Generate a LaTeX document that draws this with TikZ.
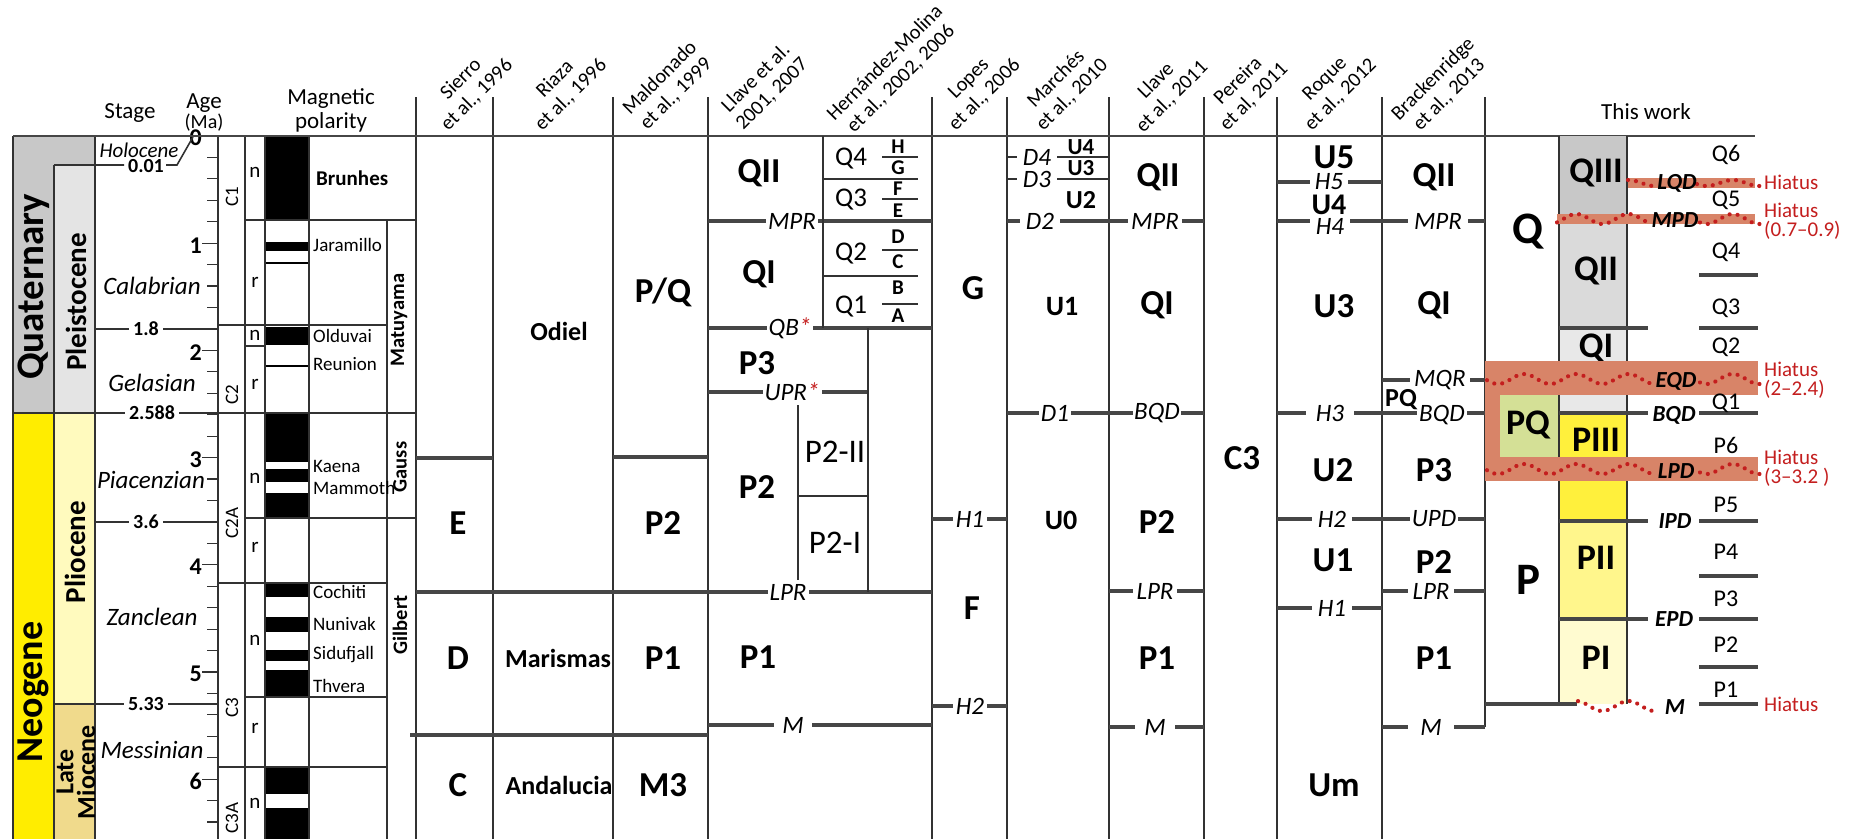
\documentclass[tikz,border=0pt]{standalone}
\usepackage{fontspec}
\setmainfont{Carlito}
\newcommand\FS[1]{\fontsize{#1}{#1}\selectfont}
\newcommand\FSb[2]{\fontsize{#1}{#2}\selectfont}
\definecolor{cQuat}{RGB}{200,200,200}
\definecolor{cPleis}{RGB}{228,228,228}
\definecolor{cNeo}{RGB}{255,237,0}
\definecolor{cPlio}{RGB}{255,250,190}
\definecolor{cMio}{RGB}{240,218,140}
\definecolor{cQiii}{RGB}{200,200,200}
\definecolor{cQii}{RGB}{218,218,218}
\definecolor{cQi}{RGB}{232,232,232}
\definecolor{cPiii}{RGB}{255,240,60}
\definecolor{cPii}{RGB}{255,246,140}
\definecolor{cPi}{RGB}{255,251,208}
\definecolor{cPQ}{RGB}{212,224,150}
\definecolor{cSal}{RGB}{216,132,104}
\definecolor{cRed}{RGB}{196,30,30}
\definecolor{cLn}{RGB}{50,50,50}
\definecolor{cLnb}{RGB}{70,70,70}
\newcommand\Wave[4]{\draw[wav] plot[domain=#1:#2, samples=70, smooth] (\x,{#3+#4*sin((\x-1485)*6.9)});}
\tikzset{
  cl/.style={line width=1.6pt, draw=cLn},
  bd/.style={line width=3.2pt, draw=cLnb},
  tk/.style={line width=1.2pt, draw=cLn},
  lab/.style={inner sep=0pt},
  big/.style={lab, font=\bfseries\FS{35}},
  med/.style={lab, font=\bfseries\FS{27}},
  rg/.style={lab, font=\FS{27}},
  itl/.style={font=\itshape\FS{25}, fill=white, inner xsep=2pt, inner ysep=0pt},
  bit/.style={lab, font=\bfseries\itshape\FS{23}},
  hdr/.style={lab, font=\FSb{20.4}{22.6}, rotate=45, align=center},
  hd/.style={lab, font=\FS{23}},
  mg/.style={lab, font=\FS{19}, anchor=west},
  rt/.style={lab, font=\FS{24}},
  hia/.style={lab, font=\FSb{21}{19}, text=cRed, anchor=west, align=left},
  agel/.style={font=\bfseries\FS{20}, fill=white, inner xsep=4pt, inner ysep=0pt},
  stg/.style={lab, font=\itshape\FS{25}},
  wav/.style={draw=cRed, line width=4.2pt, line cap=round, dash pattern=on 0.01pt off 8pt},
}
\begin{document}
\begin{tikzpicture}[x=1pt,y=-1pt]
\fill[white] (0,0) rectangle (1849,839);
\useasboundingbox (0,0) rectangle (1849,839);
% ---------- left colour columns
\fill[cQuat] (13,136) rectangle (54,413);
\fill[cQuat] (54,136) rectangle (95,165);
\fill[cPleis] (54,165) rectangle (95,413);
\fill[cNeo] (13,413) rectangle (54,839);
\fill[cPlio] (54,413) rectangle (95,704);
\fill[cMio] (54,704) rectangle (95,839);
\draw[cl] (13,136)--(13,839) (54,165)--(54,839) (95,136)--(95,839) (13,413)--(95,413) (54,704)--(95,704);
\node[lab, font=\bfseries\FS{39}, rotate=90] (quat) at (33.5,287) {Quaternary};
\node[lab, font=\bfseries\FS{29}, rotate=90] (pleis) at (76,302) {Pleistocene};
\node[lab, font=\bfseries\FS{38}, rotate=90] (neog) at (33,692) {Neogene};
\node[lab, font=\bfseries\FS{29}, rotate=90] (plio) at (75,552) {Pliocene};
\node[lab, font=\bfseries\FS{26}, rotate=90] (late) at (65,772) {Late};
\node[lab, font=\bfseries\FS{26}, rotate=90] (mioc) at (86,772) {Miocene};
% ---------- age scale
\foreach \k in {0,...,32} \draw[tk] (207,{136+21.44*\k})--(218,{136+21.44*\k});
\foreach \k in {0,...,6} {\draw[tk] (202,{136+107.2*\k})--(218,{136+107.2*\k});
  \node[lab, font=\bfseries\FS{24}, anchor=east] (age\k) at (202,{138+107.2*\k}) {\k};}
\draw[cl] (54,165)--(124,165) (166,165)--(177,165)--(193,137);
\node[lab, font=\bfseries\FS{20}] (a001) at (146,166) {0.01};
\node[lab, font=\itshape\FS{21}] (holo) at (139,150) {Holocene};
\draw[cl] (95,329)--(218,329) (95,413)--(218,413) (95,522)--(218,522) (95,704)--(218,704);
\node[agel] (a18) at (146,329) {1.8};
\node[agel] (a2588) at (152,413) {2.588};
\node[agel] (a36) at (146,522) {3.6};
\node[agel] (a533) at (146,704) {5.33};
\node[stg] (calab) at (152,286) {Calabrian};
\node[stg] (gelas) at (152,383) {Gelasian};
\node[stg] (piac) at (151,480) {Piacenzian};
\node[stg] (zanc) at (152,617) {Zanclean};
\node[stg] (mess) at (152,750) {Messinian};
% ---------- magnetic polarity
\fill[black] (265,136) rectangle (309,220);
\fill[black] (265,242) rectangle (309,251);
\fill[black] (265,327) rectangle (309,345);
\fill[black] (265,413) rectangle (309,462);
\fill[black] (265,469) rectangle (309,482);
\fill[black] (265,493) rectangle (309,518);
\fill[black] (265,583) rectangle (309,597);
\fill[black] (265,617) rectangle (309,632);
\fill[black] (265,650) rectangle (309,661);
\fill[black] (265,670) rectangle (309,697);
\fill[black] (265,767) rectangle (309,794);
\fill[black] (265,808) rectangle (309,839);
\draw[line width=1.5pt] (265,263)--(309,263) (265,366)--(309,366);
\draw[cl] (218,136)--(218,839) (245,136)--(245,839) (265,136)--(265,839) (309,136)--(309,839) (387,220)--(387,839);
\draw[cl] (245,220)--(416,220) (218,325)--(387,325) (245,346)--(265,346) (218,413)--(416,413) (245,518)--(416,518) (218,583)--(387,583) (245,697)--(387,697) (218,767)--(387,767);
\foreach \t/\yy/\nm in {C1/197/c1, C2/395/c2, C2A/523/c2a, C3/708/c3, C3A/818/c3a}
  \node[lab, font=\FS{19}, rotate=90] (\nm) at (232,\yy) {\t};
\foreach \t/\yy/\nm in {n/172/p1, r/282/p2, n/335/p3, r/384/p4, n/478/p5, r/547/p6, n/640/p7, r/728/p8, n/803/p9}
  \node[lab, font=\FS{21}] (\nm) at (255,\yy) {\t};
\node[lab, font=\bfseries\FS{21}, anchor=west] (brun) at (316,178) {Brunhes};
\node[mg] (jara) at (313,245) {Jaramillo};
\node[mg] (oldu) at (313,336) {Olduvai};
\node[mg] (reun) at (313,364) {Reunion};
\node[mg] (kaen) at (313,466) {Kaena};
\node[mg] (mamm) at (313,488) {Mammoth};
\node[mg] (coch) at (313,592) {Cochiti};
\node[mg] (nuni) at (313,624) {Nunivak};
\node[mg] (sidu) at (313,655) {Sidufjall};
\node[mg] (thve) at (313,686) {Thvera};
\node[lab, font=\bfseries\FS{20.5}, rotate=90] (matu) at (399,320) {Matuyama};
\node[lab, font=\bfseries\FS{20.5}, rotate=90] (gaus) at (400,467) {Gauss};
\node[lab, font=\bfseries\FS{20.5}, rotate=90] (gilb) at (400,625) {Gilbert};
% ---------- headers
\node[hd] (hstage) at (130,113) {Stage};
\node[hd] (hage) at (204,103) {Age};
\node[lab, font=\FS{20}] (hma) at (204,123) {(Ma)};
\node[hd] (hmag) at (331,99) {Magnetic};
\node[hd] (hpol) at (331,122) {polarity};
\node[hd] (hthis) at (1646,112) {This work};
\node[hdr] (r1) at (469,87) {Sierro\\et al., 1996};
\node[hdr] (r2) at (563,87) {Riaza\\et al., 1996};
\node[hdr] (r3) at (668,86) {Maldonado\\et al., 1999};
\node[hdr] (r4) at (764,86) {Llave et al.\\2001, 2007};
\node[hdr] (r5) at (893,71) {Hernández-Molina\\et al., 2002, 2006};
\node[hdr] (r6) at (977,87) {Lopes\\et al., 2006};
\node[hdr] (r7) at (1064,87) {Marchés\\et al., 2010};
\node[hdr] (r8) at (1164,89) {Llave\\et al., 2011};
\node[hdr] (r9) at (1246,89) {Pereira\\et al, 2011};
\node[hdr] (r10) at (1333,87) {Roque\\et al., 2012};
\node[hdr] (r11) at (1441,87) {Brackenridge\\et al., 2013};
% ---------- column frame
\foreach \xx in {416,493,613,708,932,1007,1109,1204,1277,1382} \draw[cl] (\xx,97)--(\xx,839);
\draw[cl] (1485,97)--(1485,727);
\draw[line width=1.5pt, draw=cLnb] (13,136)--(1755,136);
% ---------- Sierro, Riaza, Maldonado
\draw[bd] (416,458)--(493,458) (613,457)--(708,457) (416,592)--(932,592) (410,735)--(708,735);
\node[big] (sE) at (458,523) {E};
\node[big] (sD) at (458,658) {D};
\node[big] (sC) at (458,785) {C};
\node[lab, font=\bfseries\FS{26}] (rOd) at (559,331) {Odiel};
\node[lab, font=\bfseries\FS{26}] (rMa) at (558,658) {Marismas};
\node[lab, font=\bfseries\FS{26}] (rAn) at (559,785) {Andalucia};
\node[big] (mPQ) at (663,292) {P/Q};
\node[big] (mP2) at (663,523) {P2};
\node[big] (mP1) at (663,658) {P1};
\node[big] (mM3) at (663,785) {M3};
% ---------- Llave 2001 / Hernandez-Molina
\draw[bd] (708,221)--(932,221) (708,328)--(932,328) (708,392)--(868,392) (708,725)--(932,725);
\draw[cl] (823,136)--(823,328) (868,328)--(868,592) (798,405)--(798,580) (798,496)--(868,496);
\draw[cl] (823,179)--(918,179) (823,276)--(918,276);
\draw[line width=1.4pt, draw=cLn] (882,157)--(918,157) (882,199)--(918,199) (882,250)--(918,250) (882,304)--(918,304);
\node[itl] (lMPR) at (792,221) {MPR};
\node[itl] (lQB) at (790,328) {QB{\color{cRed}*}};
\node[itl] (lUPR) at (792,392) {UPR{\color{cRed}*}};
\node[itl] (lLPR) at (788,592) {LPR};
\node[itl, inner xsep=8pt] (lM) at (793,725) {M};
\node[big] (lQII) at (759,173) {QII};
\node[big] (lQI) at (759,274) {QI};
\node[big] (lP3) at (757,363) {P3};
\node[big] (lP2) at (757,487) {P2};
\node[big] (lP1) at (758,657) {P1};
\node[rg] (hQ4) at (851,159) {Q4};
\node[rg] (hQ3) at (851,200) {Q3};
\node[rg] (hQ2) at (851,254) {Q2};
\node[rg] (hQ1) at (851,307) {Q1};
\foreach \t/\yy in {H/147,G/168,F/189,E/211,D/237,C/262,B/288,A/316}
  \node[lab, font=\bfseries\FS{21}] (hl\t) at (898,\yy) {\t};
\node[lab, font=\FS{33}] (lP2II) at (835,452) {P2-II};
\node[lab, font=\FS{33}] (lP2I) at (835,543) {P2-I};
% ---------- Lopes
\draw[bd] (932,519)--(1007,519) (932,706)--(1007,706);
\node[itl, inner xsep=2.5pt] (oH1) at (970,519) {H1};
\node[itl, inner xsep=2.5pt] (oH2) at (970,706) {H2};
\node[big] (oG) at (973,288) {G};
\node[big] (oF) at (972,608) {F};
% ---------- Marches, Llave 2011, Pereira
\draw[cl] (1007,157)--(1109,157) (1007,179)--(1109,179);
\draw[bd] (1007,221)--(1204,221) (1007,413)--(1204,413) (1109,591)--(1204,591) (1109,727)--(1204,727);
\node[itl, inner xsep=6pt] (mD4) at (1037,157) {D4};
\node[itl, inner xsep=6pt] (mD3) at (1037,179) {D3};
\node[itl, inner xsep=6pt] (mD2) at (1040,221) {D2};
\node[itl, inner xsep=1.5pt] (mD1) at (1055,413) {D1};
\node[lab, font=\bfseries\FS{23}] (mU4) at (1081,147) {U4};
\node[lab, font=\bfseries\FS{23}] (mU3) at (1081,168) {U3};
\node[lab, font=\bfseries\FS{26}] (mU2) at (1081,200) {U2};
\node[lab, font=\bfseries\FS{28}] (mU1) at (1062,307) {U1};
\node[lab, font=\bfseries\FS{28}] (mU0) at (1061,520) {U0};
\node[itl, inner xsep=3.5pt] (vMPR) at (1155,221) {MPR};
\node[itl, inner xsep=1.5pt] (vBQD) at (1157,413) {BQD};
\node[itl, inner xsep=3.5pt] (vLPR) at (1155,591) {LPR};
\node[itl, inner xsep=9.5pt] (vM) at (1155,727) {M};
\node[big] (vQII) at (1158,177) {QII};
\node[big] (vQI) at (1157,305) {QI};
\node[big] (vP2) at (1157,522) {P2};
\node[big] (vP1) at (1157,658) {P1};
\node[big] (pC3) at (1242,458) {C3};
% ---------- Roque, Brackenridge
\draw[bd] (1277,182)--(1382,182) (1277,221)--(1485,221) (1382,380)--(1485,380) (1277,413)--(1485,413) (1277,519)--(1485,519) (1277,608)--(1382,608) (1382,591)--(1485,591) (1382,727)--(1485,727);
\node[itl, inner xsep=5pt] (qH5) at (1329,182) {H5};
\node[itl, inner xsep=6pt] (qH4) at (1330,226) {H4};
\node[itl, inner xsep=10pt] (qH3) at (1330,413) {H3};
\node[itl, inner xsep=6pt] (qH2) at (1332,519) {H2};
\node[itl, inner xsep=6pt] (qH1) at (1332,608) {H1};
\node[big] (qU5) at (1334,157) {U5};
\node[lab, font=\bfseries\FS{30}] (qU4) at (1329,205) {U4};
\node[big] (qU3) at (1334,306) {U3};
\node[big] (qU2) at (1333,470) {U2};
\node[big] (qU1) at (1333,560) {U1};
\node[big] (qUm) at (1334,785) {Um};
\node[itl, inner xsep=6pt] (bMPR) at (1438,221) {MPR};
\node[itl, inner xsep=4pt] (bMQR) at (1440,380) {MQR};
\node[itl, inner xsep=2pt] (bBQD) at (1442,415) {BQD};
\node[itl, inner xsep=1.5pt] (bUPD) at (1434,519) {UPD};
\node[itl, inner xsep=4.5pt] (bLPR) at (1431,591) {LPR};
\node[itl, inner xsep=12pt] (bM) at (1431,727) {M};
\node[big] (bQII) at (1434,177) {QII};
\node[big] (bQI) at (1434,305) {QI};
\node[lab, font=\bfseries\FS{26}] (bPQ) at (1401,400) {PQ};
\node[big] (bP3) at (1434,470) {P3};
\node[big] (bP2) at (1434,562) {P2};
\node[big] (bP1) at (1434,658) {P1};
% ---------- This work
\fill[cQiii] (1559,136) rectangle (1627,218);
\fill[cQii] (1559,218) rectangle (1627,328);
\fill[cQi] (1559,328) rectangle (1627,413);
\fill[cPiii] (1559,413) rectangle (1627,521);
\fill[cPii] (1559,521) rectangle (1627,619);
\fill[cPi] (1559,619) rectangle (1627,704);
\fill[cPQ] (1500,395) rectangle (1559,457);
\draw[cl] (1559,136)--(1559,704) (1627,136)--(1627,704);
\draw[bd] (1559,328)--(1648,328) (1559,413)--(1648,413) (1559,521)--(1648,521) (1559,619)--(1648,619) (1485,704)--(1577,704);
\foreach \yy in {275,328,413,521,576,619,667,704} \draw[bd] (1699,\yy)--(1758,\yy);
\node[lab, font=\bfseries\FS{36}] (tQI) at (1596,348) {QI};
\fill[cSal] (1628,178) rectangle (1755,188);
\fill[cSal] (1557,214) rectangle (1755,224);
\fill[cSal] (1485,361) rectangle (1758,395);
\fill[cSal] (1485,395) rectangle (1500,457);
\fill[cSal] (1485,457) rectangle (1758,481);
\node[lab, font=\bfseries\FS{36}] (tQIII) at (1596,173) {QIII};
\node[lab, font=\bfseries\FS{36}] (tQII) at (1596,271) {QII};
\node[lab, font=\bfseries\FS{36}] (tPIII) at (1596,440) {PIII};
\node[lab, font=\bfseries\FS{36}] (tPII) at (1596,558) {PII};
\node[lab, font=\bfseries\FS{36}] (tPI) at (1596,658) {PI};
\node[lab, font=\bfseries\FS{36}] (tPQ) at (1528,425) {PQ};
\node[lab, font=\bfseries\FS{45}] (tQ) at (1528,232) {Q};
\node[lab, font=\bfseries\FS{45}] (tP) at (1528,580) {P};
\Wave{1628}{1658}{183}{3}
\Wave{1697}{1761}{183}{3}
\Wave{1557}{1650}{219}{5}
\Wave{1700}{1762}{219}{5}
\Wave{1487}{1652}{379}{5}
\Wave{1700}{1760}{379}{5}
\Wave{1487}{1652}{469}{5}
\Wave{1700}{1760}{469}{5}
\Wave{1578}{1658}{706}{5}
\node[bit] (tLQD) at (1677,183) {LQD};
\node[bit] (tMPD) at (1675,220) {MPD};
\node[bit] (tEQD) at (1676,381) {EQD};
\node[bit] (tBQD) at (1674,415) {BQD};
\node[bit] (tLPD) at (1676,471) {LPD};
\node[bit] (tIPD) at (1675,521) {IPD};
\node[bit] (tEPD) at (1674,619) {EPD};
\node[bit] (tM) at (1675,707) {M};
\foreach \t/\yy/\nm in {Q6/155/u6, Q5/200/u5, Q4/252/u4, Q3/308/u3, Q2/347/u2, Q1/403/u1, P6/445/w6, P5/505/w5, P4/552/w4, P3/599/w3, P2/645/w2, P1/690/w1}
  \node[rt] (\nm) at (1726,\yy) {\t};
\node[hia] (hi1) at (1764,182) {Hiatus};
\node[hia] (hi2) at (1764,221) {Hiatus\\(0.7–0.9)};
\node[hia] (hi3) at (1764,380) {Hiatus\\(2–2.4)};
\node[hia] (hi4) at (1764,468) {Hiatus\\(3–3.2 )};
\node[hia] (hi5) at (1764,704) {Hiatus};
\end{tikzpicture}
\end{document}
